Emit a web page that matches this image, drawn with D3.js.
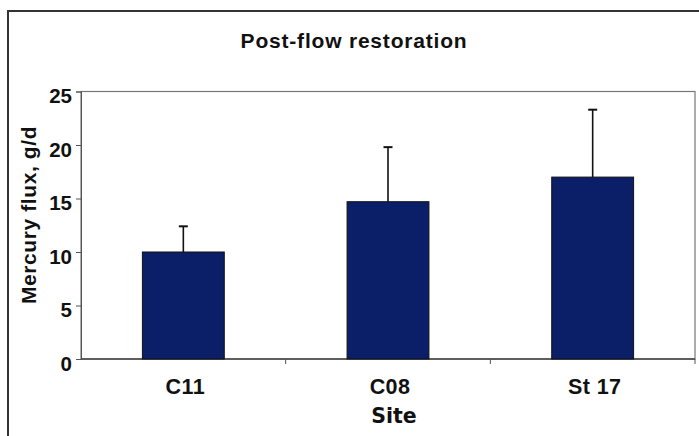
<!DOCTYPE html>
<html>
<head>
<meta charset="utf-8">
<script src="https://cdn.jsdelivr.net/npm/d3@7"></script>
<style>
  body { margin: 0; background: #fff; }
  text { font-family: "Liberation Sans", Arial, sans-serif; font-weight: bold; fill: #111; }
</style>
</head>
<body>
<div id="chart"></div>
<script>
// data
var sites = ["C11", "C08", "St 17"];
var flux = [10.0, 14.7, 17.0];
var fluxErr = [2.4, 5.1, 6.3];
var yTicks = [0, 5, 10, 15, 20, 25];

var W = 699, H = 436;
var margin = {top: 91.5, right: 4, bottom: 77, left: 81};
var w = W - margin.left - margin.right;
var h = H - margin.top - margin.bottom;

var svg = d3.select("#chart").append("svg")
    .attr("width", W)
    .attr("height", H);

// outer frame, runs off the right and bottom edge like the scan
svg.append("rect")
   .attr("x", 8).attr("y", 11)
   .attr("width", 720).attr("height", 460)
   .attr("fill", "none")
   .attr("stroke", "#333")
   .attr("stroke-width", 2);

var g = svg.append("g")
    .attr("transform", "translate(" + margin.left + "," + margin.top + ")");

var xScale = d3.scaleBand().domain(sites).range([0, w]).padding(0);
var yScale = d3.scaleLinear().domain([0, 25]).range([h, 0]);

// plot area border
g.append("rect")
 .attr("width", w).attr("height", h)
 .attr("fill", "none")
 .attr("stroke", "#777")
 .attr("stroke-width", 1.2);

// y axis
var yAxis = g.append("g")
    .call(d3.axisLeft(yScale).tickValues(yTicks).tickSize(5).tickPadding(4));
yAxis.select(".domain").attr("stroke", "#555");
yAxis.selectAll(".tick line").attr("stroke", "#555");
yAxis.selectAll(".tick text")
     .attr("font-size", "20.5px")
     .attr("font-family", "'Liberation Sans', Arial, sans-serif")
     .attr("font-weight", "bold")
     .attr("fill", "#111")
     .attr("dy", "0.55em");

// x axis: ticks at band boundaries
var xAxis = g.append("g").attr("transform", "translate(0," + h + ")");
xAxis.append("line")
     .attr("x1", 0).attr("x2", w)
     .attr("stroke", "#444").attr("stroke-width", 1.5);
xAxis.selectAll("line.tk")
     .data(sites.slice(1).concat(["end"]))
     .enter().append("line")
     .attr("class", "tk")
     .attr("x1", function(d, i){ return i < sites.length - 1 ? xScale(d) : w; })
     .attr("x2", function(d, i){ return i < sites.length - 1 ? xScale(d) : w; })
     .attr("y1", 0).attr("y2", 5)
     .attr("stroke", "#555");
xAxis.selectAll("text.lbl")
     .data(sites)
     .enter().append("text")
     .attr("class", "lbl")
     .attr("x", function(d){ return xScale(d) + xScale.bandwidth() / 2 + 2; })
     .attr("y", 35)
     .attr("text-anchor", "middle")
     .attr("font-size", "21.5px")
     .style("letter-spacing", "0.4px")
     .text(function(d){ return d; });

// bars
var barW = xScale.bandwidth() * 0.4;
g.selectAll("rect.bar")
 .data(sites)
 .enter().append("rect")
 .attr("class", "bar")
 .attr("x", function(d){ return xScale(d) + (xScale.bandwidth() - barW) / 2; })
 .attr("y", function(d, i){ return yScale(flux[i]); })
 .attr("width", barW)
 .attr("height", function(d, i){ return h - yScale(flux[i]); })
 .attr("fill", "#0b1f68")
 .attr("stroke", "#111")
 .attr("stroke-width", 1);

// upper error bars
var err = g.selectAll("g.err")
    .data(sites)
    .enter().append("g")
    .attr("class", "err");
err.append("line")
   .attr("x1", function(d){ return xScale(d) + xScale.bandwidth() / 2; })
   .attr("x2", function(d){ return xScale(d) + xScale.bandwidth() / 2; })
   .attr("y1", function(d, i){ return yScale(flux[i]); })
   .attr("y2", function(d, i){ return yScale(flux[i] + fluxErr[i]); })
   .attr("stroke", "#111").attr("stroke-width", 1.6);
err.append("line")
   .attr("x1", function(d){ return xScale(d) + xScale.bandwidth() / 2 - 4.5; })
   .attr("x2", function(d){ return xScale(d) + xScale.bandwidth() / 2 + 4.5; })
   .attr("y1", function(d, i){ return yScale(flux[i] + fluxErr[i]); })
   .attr("y2", function(d, i){ return yScale(flux[i] + fluxErr[i]); })
   .attr("stroke", "#111").attr("stroke-width", 2);

// title
svg.append("text")
   .attr("x", 354).attr("y", 48)
   .attr("text-anchor", "middle")
   .attr("font-size", "21px")
   .style("letter-spacing", "0.8px")
   .text("Post-flow restoration");

// y axis title
svg.append("text")
   .attr("transform", "translate(36," + 215 + ") rotate(-90)")
   .attr("text-anchor", "middle")
   .attr("font-size", "21px")
   .style("letter-spacing", "0.6px")
   .text("Mercury flux, g/d");

// x axis title
svg.append("text")
   .attr("x", 394).attr("y", 423)
   .attr("text-anchor", "middle")
   .attr("font-size", "20.5px")
   .style("font-family", "'DejaVu Sans', Verdana, sans-serif")
   .text("Site");
</script>
</body>
</html>
